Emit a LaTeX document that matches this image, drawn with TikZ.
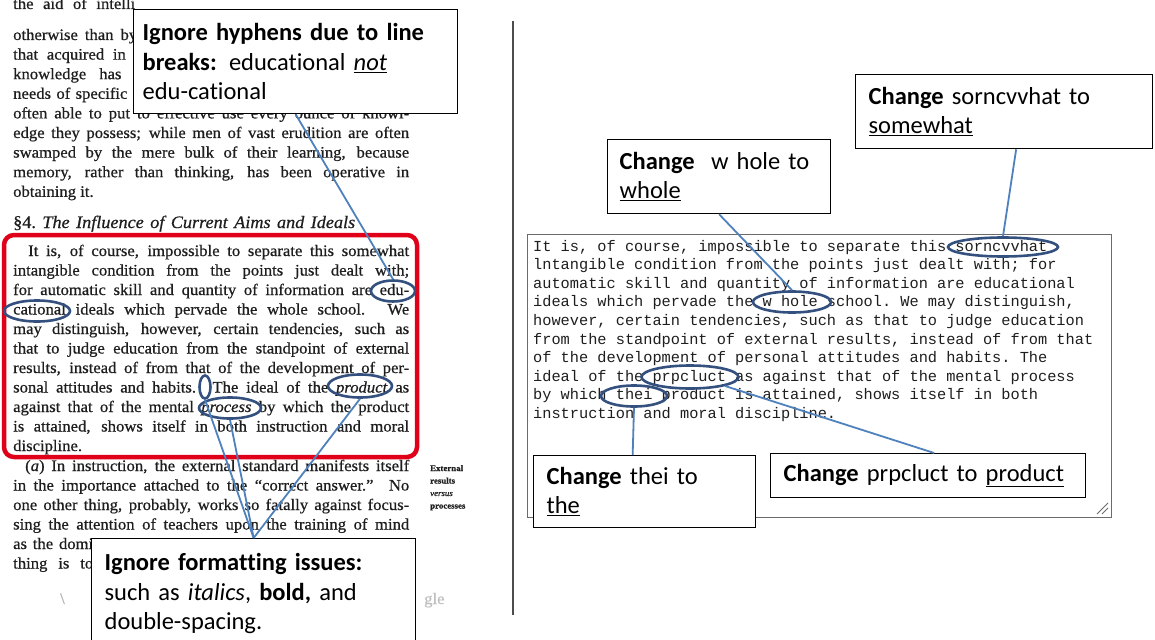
\documentclass[tikz,border=0pt]{standalone}
\usepackage{fontspec}
\setmainfont{Carlito}[Ligatures=NoCommon]
\newfontfamily\bookfont{Liberation Serif}[FakeStretch=1.04, FakeBold=0.6]
\newfontfamily\monofont{Liberation Mono}
\usetikzlibrary{shapes.geometric}
\definecolor{linkblue}{HTML}{4F81BD}
\definecolor{ellblue}{HTML}{34507F}
\definecolor{redframe}{HTML}{E0001A}
\definecolor{boxgray}{HTML}{6B6B6B}
\definecolor{ink}{HTML}{1E1E1E}
\newcommand\callfont{\fontsize{24.5}{29.5}\selectfont}
\newcommand\bookfs{\bookfont\fontsize{16}{19.5}\selectfont}
\newcommand\jl[1]{\makebox[396pt][s]{#1}\\}
\tikzset{
  ell/.style={ellipse, draw=ellblue, line width=2.6pt, inner sep=0pt},
  link/.style={draw=linkblue, line width=1.8pt},
  callout/.style={draw=black, line width=1.3pt, fill=white, anchor=north west,
    align=left, inner ysep=0pt, font=\callfont},
  booktext/.style={anchor=base west, inner sep=0pt, text=ink, font=\bookfs},
}
\begin{document}
\begin{tikzpicture}[x=1pt,y=-1pt]
\useasboundingbox (0,0) rectangle (1155,639);
\fill[white] (0,0) rectangle (1155,639);

% ---------- left: scanned book page ----------
\node[booktext] (p0) at (13,9) {\makebox[122pt][s]{the aid of intelli}};
\node[booktext] (pa) at (13,40) {\parbox[t]{396pt}{\fontsize{16}{19.6}\selectfont
\makebox[124pt][s]{otherwise than by}\\
\makebox[126pt][s]{that acquired in t}\\
\makebox[126pt][s]{knowledge has l}\\
\makebox[126pt][s]{needs of specific s}\\
\jl{often able to put to effective use every ounce of knowl-}
\jl{edge they possess; while men of vast erudition are often}
\jl{swamped by the mere bulk of their learning, because}
\jl{memory, rather than thinking, has been operative in}
obtaining it.}};

\node[booktext, font=\bookfont\fontsize{17.5}{20}\selectfont] (hd) at (13,228)
  {\makebox[342pt][s]{§4.\ \textit{The Influence of Current Aims and Ideals}}};

\node[booktext] (pb) at (13,256) {\parbox[t]{396pt}{%
\hspace*{15pt}\makebox[381pt][s]{It is, of course, impossible to separate this somewhat}\\
\jl{intangible condition from the points just dealt with;}
\jl{for automatic skill and quantity of information are edu-}
\jl{cational ideals which pervade the whole school. We}
\jl{may distinguish, however, certain tendencies, such as}
\jl{that to judge education from the standpoint of external}
\jl{results, instead of from that of the development of per-}
\jl{sonal attitudes and habits. The ideal of the \textit{product} as}
\jl{against that of the mental \textit{process} by which the product}
\jl{is attained, shows itself in both instruction and moral}
discipline.}};

\node[booktext] (pc) at (13,471) {\parbox[t]{396pt}{%
\hspace*{12pt}\makebox[384pt][s]{(\textit{a}) In instruction, the external standard manifests itself}\\
\jl{in the importance attached to the “correct answer.” No}
\jl{one other thing, probably, works so fatally against focus-}
\jl{sing the attention of teachers upon the training of mind}
\makebox[80pt][s]{as the domi}\\
\makebox[80pt][s]{thing is to}}};

\node[anchor=base west, inner sep=0pt, text=ink, font=\bookfont\bfseries\fontsize{8.5}{12.5}\selectfont] (mn) at (430,471)
  {\parbox[t]{70pt}{External\\results\\{\mdseries\itshape versus}\\processes}};

\node[anchor=base west, inner sep=0pt, text=black!30, font=\bookfs] (s1) at (60,604) {\textbackslash};
\node[anchor=base west, inner sep=0pt, text=black!25, font=\bookfs] (s2) at (424,604) {gle};

\draw[redframe, line width=4.5pt, rounded corners=10pt] (4,235) rectangle (417,457);

% divider
\draw[black!70, line width=2.5pt] (513,21) -- (513,615);

% ---------- right: OCR text box ----------
\node[draw=boxgray, line width=1.2pt, minimum width=584pt, minimum height=283pt,
  anchor=north west, inner sep=0pt] (tb) at (527,234) {};
\draw[boxgray, line width=0.8pt] (1097,514) -- (1108,503) (1102,514) -- (1108,508);

\node[anchor=base west, inner sep=0pt, text=ink] (mt) at (533,251) {\parbox[t]{600pt}{%
\monofont\fontsize{15.3}{18.6}\selectfont\frenchspacing
It is, of course, impossible to separate this sorncvvhat\\
lntangible condition from the points just dealt with; for\\
automatic skill and quantity of information are educational\\
ideals which pervade the w hole school. We may distinguish,\\
however, certain tendencies, such as that to judge education\\
from the standpoint of external results, instead of from that\\
of the development of personal attitudes and habits. The\\
ideal of the prpcluct as against that of the mental process\\
by which thei product is attained, shows itself in both\\
instruction and moral discipline.}};

% ---------- ellipses ----------
\node[ell, minimum width=44pt, minimum height=21pt] (edu) at (393,291) {};
\node[ell, minimum width=66pt, minimum height=21pt] (cat) at (37,311) {};
\node[ell, minimum width=11pt, minimum height=23pt] (sml) at (205,387) {};
\node[ell, minimum width=64pt, minimum height=23pt] (prd) at (360,386) {};
\node[ell, minimum width=62pt, minimum height=21pt] (prc) at (230,408) {};

\node[ell, minimum width=110pt, minimum height=19pt] (sor) at (1003,247) {};
\node[ell, minimum width=78pt, minimum height=21pt] (who) at (792,302) {};
\node[ell, minimum width=97pt, minimum height=23pt] (prp) at (690,377) {};
\node[ell, minimum width=66pt, minimum height=21pt] (thi) at (634,396) {};

% ---------- callouts ----------
\node[callout, inner xsep=9pt, text width=306pt, minimum height=104pt] (c1) at (133,9)
  {\textbf{Ignore hyphens due to line}\\\textbf{breaks:} educational \underline{\textit{not}}\\edu-cational};
\node[callout, inner xsep=13pt, text width=298pt, minimum height=110pt] (c2) at (91,538)
  {\textbf{Ignore formatting issues:}\\such as \textit{italics}, \textbf{bold,} and\\double-spacing.};
\node[callout, inner xsep=12pt, text width=199pt, minimum height=74pt] (cw) at (607,139)
  {\textbf{Change}\ \ w hole to\\\underline{whole}};
\node[callout, inner xsep=13pt, text width=271pt, minimum height=74pt] (cs) at (855,74)
  {\textbf{Change} sorncvvhat to\\\underline{somewhat}};
\node[callout, inner xsep=13pt, text width=196pt, minimum height=72pt] (ct) at (533,455)
  {\textbf{Change} thei to\\\underline{the}};
\node[callout, inner xsep=13pt, text width=289pt, minimum height=44pt] (cp) at (770,453)
  {\textbf{Change} prpcluct to \underline{product}};

% ---------- connectors ----------
\draw[link] (c1.south) -- (edu.north);
\draw[link] (c2.north) -- (sml.south);
\draw[link] (c2.north) -- (prc.south);
\draw[link] (c2.north) -- (prd.south);
\draw[link] (cw.south) -- (who.north);
\draw[link] ([xshift=12pt]cs.south) -- (sor.north);
\draw[link] ([xshift=-12pt]ct.north) -- (thi.south);
\draw[link] (prp.south east) -- ([xshift=6pt]cp.north);
\end{tikzpicture}
\end{document}
